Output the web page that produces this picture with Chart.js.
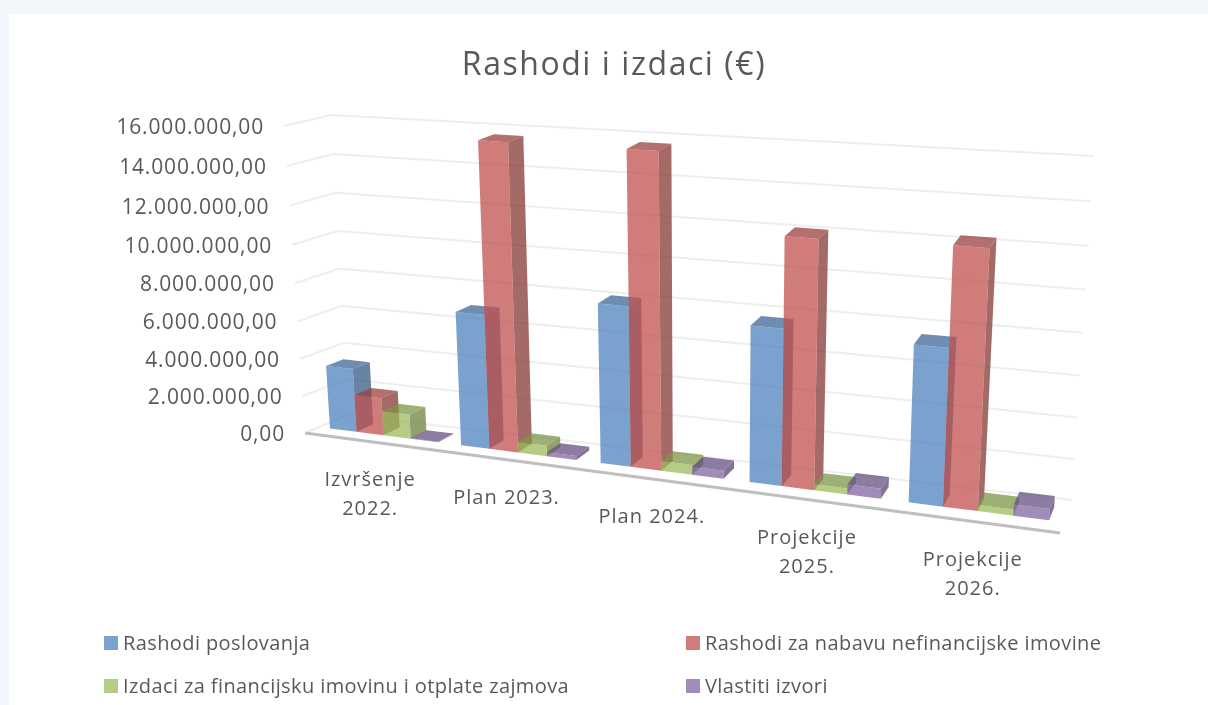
<!DOCTYPE html>
<html>
<head>
<meta charset="utf-8">
<script src="https://cdn.jsdelivr.net/npm/chart.js@4/dist/chart.umd.min.js"></script>
<style>
  html, body { margin: 0; padding: 0; background: #f3f6fb; overflow: hidden; }
  #card { position: absolute; left: 9px; top: 14px; width: 1199px; height: 691px; background: #fff; }
  #c { position: absolute; left: 0; top: 0; }
</style>
</head>
<body>
<div id="card"></div>
<canvas id="c" width="1208" height="705"></canvas>
<script>
const categories = [["Izvršenje", "2022."], "Plan 2023.", "Plan 2024.", ["Projekcije", "2025."], ["Projekcije", "2026."]];
const rashodiPoslovanja = [3400000, 7000000, 8150000, 7800000, 7650000];
const rashodiNabava = [2000000, 15700000, 15750000, 12200000, 12400000];
const izdaciFinancijska = [1300000, 550000, 500000, 300000, 300000];
const vlastitiIzvori = [30000, 200000, 400000, 500000, 550000];
const tickLabels = ["0,00", "2.000.000,00", "4.000.000,00", "6.000.000,00", "8.000.000,00",
  "10.000.000,00", "12.000.000,00", "14.000.000,00", "16.000.000,00"];
const seriesNames = ["Rashodi poslovanja", "Rashodi za nabavu nefinancijske imovine",
  "Izdaci za financijsku imovinu i otplate zajmova", "Vlastiti izvori"];
const titleText = "Rashodi i izdaci (€)";

const FONT = '"Open Sans", sans-serif';
const TEXT_COLOR = "#595959";

// corners of the 3D box as seen in the picture: bottom-left, bottom-right, top-right, top-left
const frontQuad = [[305, 433], [1060, 533], [1080, 182], [284, 126]];
const backQuad = [[348, 415], [1072, 500], [1094, 156], [331, 115]];
const BAR_W0 = 0.33, BAR_W1 = 0.73;
const U_WARP = 0.02; // extra foreshortening along the category axis
const BAR_ALPHA = 0.75;

function quadMap(q) {
  const [p0, p1, p2, p3] = q;
  const dx1 = p1[0] - p2[0], dx2 = p3[0] - p2[0], sx = p0[0] - p1[0] + p2[0] - p3[0];
  const dy1 = p1[1] - p2[1], dy2 = p3[1] - p2[1], sy = p0[1] - p1[1] + p2[1] - p3[1];
  const det = dx1 * dy2 - dx2 * dy1;
  const g = (sx * dy2 - dx2 * sy) / det;
  const h = (dx1 * sy - sx * dy1) / det;
  const a = p1[0] - p0[0] + g * p1[0], b = p3[0] - p0[0] + h * p3[0];
  const d = p1[1] - p0[1] + g * p1[1], e = p3[1] - p0[1] + h * p3[1];
  return (u, v) => {
    const z = g * u + h * v + 1;
    return [(a * u + b * v + p0[0]) / z, (d * u + e * v + p0[1]) / z];
  };
}
const mapFront = quadMap(frontQuad);
const mapBack = quadMap(backQuad);

// u along categories, v along values, w depth (0 front, 1 back wall)
function project(u, v, w) {
  const f = mapFront(u, v), b = mapBack(u, v);
  return [f[0] + (b[0] - f[0]) * w, f[1] + (b[1] - f[1]) * w];
}

function warp(u) {
  return u - U_WARP * u * (1 - u);
}

function face(ctx, pts, color) {
  ctx.beginPath();
  pts.forEach((p, i) => i ? ctx.lineTo(p[0], p[1]) : ctx.moveTo(p[0], p[1]));
  ctx.closePath();
  ctx.fillStyle = color;
  ctx.fill();
}

function shade(rgb, k, a) {
  return `rgba(${Math.round(rgb[0] * k)},${Math.round(rgb[1] * k)},${Math.round(rgb[2] * k)},${a})`;
}

const barColors = [[79, 129, 189], [192, 80, 77], [155, 187, 89], [128, 100, 162]];

const scene3d = {
  id: "scene3d",
  beforeDatasetsDraw(chart) {
    const ctx = chart.ctx;
    const y = chart.scales.y;
    const x = chart.scales.x;
    ctx.save();
    // walls
    ctx.strokeStyle = "#eeeeee";
    ctx.lineWidth = 2;
    y.ticks.forEach((t) => {
      const v = (t.value - y.min) / (y.max - y.min);
      const a = project(0, v, 0), b = project(0, v, 1), c = project(1, v, 1);
      ctx.beginPath();
      ctx.moveTo(a[0], a[1]);
      ctx.lineTo(b[0], b[1]);
      ctx.lineTo(c[0], c[1]);
      ctx.stroke();
    });
    // base line
    const b0 = project(0, 0, 0), b1 = project(1, 0, 0);
    ctx.strokeStyle = "#bfbfbf";
    ctx.lineWidth = 3;
    ctx.beginPath();
    ctx.moveTo(b0[0], b0[1]);
    ctx.lineTo(b1[0], b1[1]);
    ctx.stroke();

    // tick labels
    ctx.font = "21px " + FONT;
    ctx.letterSpacing = "0.85px";
    ctx.fillStyle = TEXT_COLOR;
    ctx.textAlign = "right";
    ctx.textBaseline = "middle";
    y.ticks.forEach((t) => {
      const v = (t.value - y.min) / (y.max - y.min);
      const p = project(0, v, 0);
      ctx.fillText(t.label, p[0] - 20, p[1] + 2);
    });

    // category labels
    ctx.font = "20px " + FONT;
    ctx.letterSpacing = "1px";
    ctx.textAlign = "center";
    categories.forEach((cat, i) => {
      const u = warp((x.getPixelForTick(i) - chart.chartArea.left) / chart.chartArea.width);
      const p = project(u, 0, 0);
      const lines = x.ticks[i].label;
      [].concat(lines).forEach((line, k) => {
        ctx.fillText(line, p[0], p[1] + 38.5 + k * 29);
      });
    });

    // legend
    ctx.font = "20px " + FONT;
    ctx.letterSpacing = "0.4px";
    ctx.textAlign = "left";
    const legendX = [104, 686], legendY = [643, 686];
    chart.data.datasets.forEach((ds, i) => {
      const lx = legendX[i % 2], ly = legendY[i >> 1];
      ctx.fillStyle = ds.backgroundColor;
      ctx.fillRect(lx, ly - 7, 14, 14);
      ctx.fillStyle = TEXT_COLOR;
      ctx.fillText(ds.label, lx + 19, ly + 1);
    });

    // title
    ctx.font = "32px " + FONT;
    ctx.letterSpacing = "1.55px";
    ctx.textAlign = "center";
    ctx.fillText(titleText, 614, 66);
    ctx.restore();
  },
  beforeDatasetDraw() {
    return false; // bars are painted in afterDatasetsDraw below
  },
  afterDatasetsDraw(chart) {
    const ctx = chart.ctx;
    const area = chart.chartArea;
    const base = chart.scales.y.getPixelForValue(0);
    const top = chart.scales.y.getPixelForValue(16000000);
    ctx.save();
    categories.forEach((_, i) => {
      chart.data.datasets.forEach((ds, d) => {
        const el = chart.getDatasetMeta(d).data[i];
        const u0 = warp((el.x - el.width / 2 - area.left) / area.width);
        const u1 = warp((el.x + el.width / 2 - area.left) / area.width);
        const v = (base - el.y) / (base - top);
        const c = barColors[d];
        face(ctx, [project(u1, 0, BAR_W0), project(u1, 0, BAR_W1), project(u1, v, BAR_W1), project(u1, v, BAR_W0)], shade(c, 0.7, BAR_ALPHA));
        face(ctx, [project(u0, v, BAR_W0), project(u1, v, BAR_W0), project(u1, v, BAR_W1), project(u0, v, BAR_W1)], shade(c, 0.8, BAR_ALPHA));
        face(ctx, [project(u0, 0, BAR_W0), project(u1, 0, BAR_W0), project(u1, v, BAR_W0), project(u0, v, BAR_W0)], shade(c, 1, BAR_ALPHA));
      });
    });
    ctx.restore();
  }
};

const seriesValues = [rashodiPoslovanja, rashodiNabava, izdaciFinancijska, vlastitiIzvori];

new Chart(document.getElementById("c"), {
  type: "bar",
  data: {
    labels: categories,
    datasets: seriesNames.map((name, i) => ({
      label: name,
      data: seriesValues[i],
      backgroundColor: shade(barColors[i], 1, BAR_ALPHA),
    })),
  },
  options: {
    responsive: false,
    animation: false,
    events: [],
    layout: { padding: { left: 305, right: 148, top: 126, bottom: 272 } },
    datasets: { bar: { categoryPercentage: 0.83, barPercentage: 1 } },
    scales: {
      x: { grid: { display: false }, border: { display: false }, ticks: { display: false } },
      y: {
        min: 0,
        max: 16000000,
        grid: { display: false },
        border: { display: false },
        ticks: { display: false, stepSize: 2000000, callback: (v, i) => tickLabels[i] },
      },
    },
    plugins: {
      legend: { display: false },
      tooltip: { enabled: false },
      title: { display: false },
    },
  },
  plugins: [scene3d],
});
</script>
</body>
</html>
